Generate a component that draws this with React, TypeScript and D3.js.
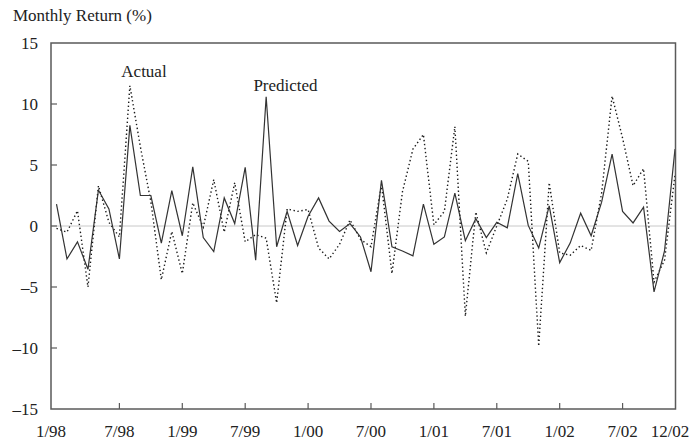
import * as d3 from 'd3';
import React, { useRef, useEffect } from 'react';

// months 1/98 .. 12/02
const months = d3.range(60).map(i => `${(i % 12) + 1}/${String(98 + Math.floor(i / 12)).slice(-2).padStart(2, '0')}`);

const actual = [
    -0.2, -0.5, 1.25, -5.0, 3.3, 0.3, -0.9, 11.5, 6.5, 2.0,
    -4.4, -0.45, -3.9, 1.9, -0.1, 3.8, -0.5, 3.55, -1.3, -0.7,
    -1.0, -6.3, 1.4, 1.2, 1.35, -1.8, -2.7, -1.5, 0.5, -1.1,
    -1.7, 3.4, -3.9, 2.8, 6.3, 7.5, 0.1, 1.2, 8.15, -7.4,
    1.15, -2.2, 0.0, 2.2, 5.9, 5.3, -9.85, 3.55, -2.2, -2.4,
    -1.6, -2.0, 2.7, 10.65, 7.2, 3.3, 4.7, -4.6, -2.8, 4.2
];

const predicted = [
    1.8, -2.7, -1.3, -3.55, 2.95, 1.4, -2.7, 8.25, 2.5, 2.5,
    -1.4, 2.9, -0.8, 4.85, -0.95, -2.1, 2.3, 0.2, 4.8, -2.8,
    10.6, -1.7, 1.2, -1.6, 0.8, 2.3, 0.4, -0.45, 0.2, -0.9,
    -3.75, 3.75, -1.7, -2.05, -2.45, 1.8, -1.5, -0.9, 2.7, -1.2,
    0.6, -0.95, 0.3, -0.15, 4.3, 0.05, -1.8, 1.65, -3.0, -1.4,
    1.05, -0.8, 1.95, 5.9, 1.2, 0.25, 1.55, -5.4, -2.05, 6.3
];

const yTicks = [-15, -10, -5, 0, 5, 10, 15];
const xTickIdx = [0, 6, 12, 18, 24, 30, 36, 42, 48, 54, 59];

const W = 696, H = 441;
const FONT = '"Liberation Serif", "Times New Roman", serif';
const FS = 17;

function App() {
    const ref = useRef<SVGSVGElement>(null);

    useEffect(() => {
        const svg = d3.select(ref.current);
        svg.selectAll('*').remove();

        const left = 51, right = 675.5, top = 43, bottom = 409;

        const x = d3.scaleLinear().domain([0, 59]).range([56.5, 675]);
        const y = d3.scaleLinear().domain([-15, 15]).range([bottom, top]);

        // title
        svg.append('text')
            .attr('x', 13).attr('y', 21)
            .attr('font-family', FONT).attr('font-size', FS).attr('fill', '#222')
            .text('Monthly Return (%)');

        // zero line
        svg.append('line')
            .attr('x1', left).attr('x2', right)
            .attr('y1', y(0)).attr('y2', y(0))
            .attr('stroke', '#c8c8c8').attr('stroke-width', 1);

        // series
        const line = d3.line<number>()
            .x((d, i) => x(i))
            .y(d => y(d));

        svg.append('path')
            .datum(actual)
            .attr('d', line)
            .attr('fill', 'none')
            .attr('stroke', '#1a1a1a')
            .attr('stroke-width', 1.4)
            .attr('stroke-dasharray', '1.4 2.6');

        svg.append('path')
            .datum(predicted)
            .attr('d', line)
            .attr('fill', 'none')
            .attr('stroke', '#333')
            .attr('stroke-width', 1.2);

        // frame
        svg.append('rect')
            .attr('x', left).attr('y', top)
            .attr('width', right - left).attr('height', bottom - top)
            .attr('fill', 'none').attr('stroke', '#5a5a5a').attr('stroke-width', 1.5);

        // y ticks
        const yg = svg.append('g');
        yg.selectAll('line').data(yTicks.slice(1, -1)).join('line')
            .attr('x1', left).attr('x2', left + 6)
            .attr('y1', d => y(d)).attr('y2', d => y(d))
            .attr('stroke', '#5a5a5a').attr('stroke-width', 1.2);
        yg.selectAll('text').data(yTicks).join('text')
            .attr('x', 38).attr('y', d => y(d)).attr('dy', '0.33em')
            .attr('text-anchor', 'end')
            .attr('font-family', FONT).attr('font-size', FS).attr('fill', '#222')
            .text(d => d < 0 ? `\u2013${-d}` : `${d}`);

        // x ticks
        const xg = svg.append('g');
        xg.selectAll('line').data(xTickIdx.slice(1, -1)).join('line')
            .attr('x1', d => x(d)).attr('x2', d => x(d))
            .attr('y1', bottom).attr('y2', bottom - 6)
            .attr('stroke', '#5a5a5a').attr('stroke-width', 1.2);
        xg.selectAll('text').data(xTickIdx).join('text')
            .attr('x', d => d === 0 ? left : d === 59 ? x(d) - 5 : x(d))
            .attr('y', 437)
            .attr('text-anchor', 'middle')
            .attr('font-family', FONT).attr('font-size', FS).attr('fill', '#222')
            .text(d => months[d]);

        // series labels
        svg.append('text')
            .attr('x', 144).attr('y', 77)
            .attr('text-anchor', 'middle')
            .attr('font-family', FONT).attr('font-size', FS).attr('fill', '#222')
            .text('Actual');
        svg.append('text')
            .attr('x', 285.5).attr('y', 91)
            .attr('text-anchor', 'middle')
            .attr('font-family', FONT).attr('font-size', FS).attr('fill', '#222')
            .text('Predicted');
    }, []);

    return (
        <svg ref={ref} width={W} height={H}
            style={{ position: 'absolute', left: 0, top: 0, background: '#fff' }}>
        </svg>
    );
}

export default App;
